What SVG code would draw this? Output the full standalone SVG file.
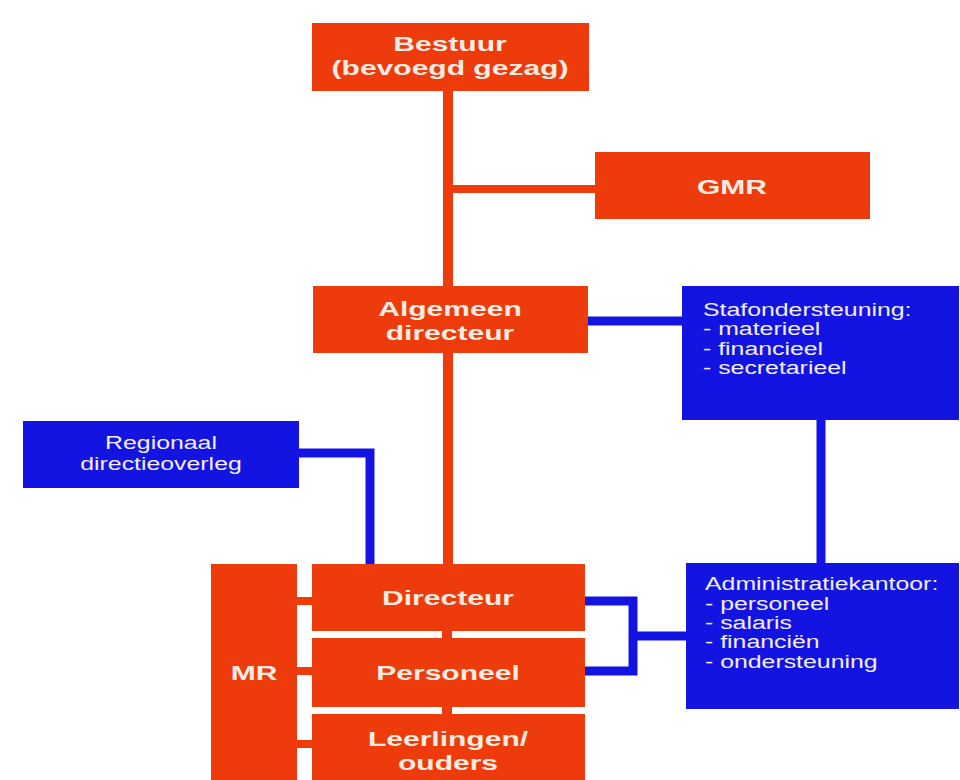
<svg xmlns="http://www.w3.org/2000/svg" width="960" height="780" viewBox="0 0 960 780">
<style>
.o{fill:#EE3B0B}
.b{fill:#1414E2}
.co{stroke:#EE3B0B;fill:none}
.cb{stroke:#1414E2;fill:none;stroke-width:9}
.tb{font-family:"Liberation Sans",Arial,sans-serif;font-weight:bold;font-size:21px;fill:#F8ECE2;text-anchor:middle}
.tr{font-family:"Liberation Sans",Arial,sans-serif;font-size:18px;fill:#F2EEF8}
</style>
<rect width="960" height="780" fill="#ffffff"/>
<g id="connectors">
<line class="co" x1="448" y1="90" x2="448" y2="565" stroke-width="10"/>
<line class="co" x1="447" y1="630" x2="447" y2="715" stroke-width="10"/>
<line class="co" x1="448" y1="189" x2="596" y2="189" stroke-width="8"/>
<line class="co" x1="296" y1="601" x2="313" y2="601" stroke-width="8"/>
<line class="co" x1="296" y1="671" x2="313" y2="671" stroke-width="8"/>
<line class="co" x1="296" y1="744" x2="313" y2="744" stroke-width="8"/>
<line class="cb" x1="587" y1="321" x2="683" y2="321"/>
<line class="cb" x1="821" y1="419" x2="821" y2="564"/>
<polyline class="cb" points="298,453 370,453 370,565"/>
<polyline class="cb" points="584,601 633,601 633,671 584,671"/>
<line class="cb" x1="633" y1="636" x2="687" y2="636"/>
</g>
<g id="bestuur">
<rect class="o" x="312" y="23" width="277" height="68"/>
<text class="tb" transform="translate(450,51) scale(1.43,1)">Bestuur</text>
<text class="tb" transform="translate(450,75) scale(1.43,1)">(bevoegd gezag)</text>
</g>
<g id="gmr">
<rect class="o" x="595" y="152" width="275" height="67"/>
<text class="tb" transform="translate(732,194) scale(1.43,1)">GMR</text>
</g>
<g id="algemeen">
<rect class="o" x="313" y="286" width="275" height="67"/>
<text class="tb" transform="translate(450,316) scale(1.43,1)">Algemeen</text>
<text class="tb" transform="translate(450,340) scale(1.43,1)">directeur</text>
</g>
<g id="staf">
<rect class="b" x="682" y="286" width="277" height="134"/>
<g transform="translate(703,0) scale(1.38,1)">
<text class="tr" x="0" y="316">Stafondersteuning:</text>
<text class="tr" x="0" y="335">- materieel</text>
<text class="tr" x="0" y="355">- financieel</text>
<text class="tr" x="0" y="374">- secretarieel</text>
</g>
</g>
<g id="regionaal">
<rect class="b" x="23" y="421" width="276" height="67"/>
<g transform="translate(161,0) scale(1.38,1)">
<text class="tr" x="0" y="449" text-anchor="middle">Regionaal</text>
<text class="tr" x="0" y="470" text-anchor="middle">directieoverleg</text>
</g>
</g>
<g id="mr">
<rect class="o" x="211" y="564" width="86" height="216"/>
<text class="tb" transform="translate(254,680) scale(1.43,1)">MR</text>
</g>
<g id="directeur">
<rect class="o" x="312" y="564" width="273" height="67"/>
<text class="tb" transform="translate(448,605) scale(1.43,1)">Directeur</text>
</g>
<g id="personeel">
<rect class="o" x="312" y="638" width="273" height="69"/>
<text class="tb" transform="translate(448,680) scale(1.43,1)">Personeel</text>
</g>
<g id="leerlingen">
<rect class="o" x="312" y="714" width="273" height="66"/>
<text class="tb" transform="translate(448,746) scale(1.43,1)">Leerlingen/</text>
<text class="tb" transform="translate(448,770) scale(1.43,1)">ouders</text>
</g>
<g id="admin">
<rect class="b" x="686" y="563" width="273" height="146"/>
<g transform="translate(705,0) scale(1.38,1)">
<text class="tr" x="0" y="590">Administratiekantoor:</text>
<text class="tr" x="0" y="610">- personeel</text>
<text class="tr" x="0" y="629">- salaris</text>
<text class="tr" x="0" y="648">- financiën</text>
<text class="tr" x="0" y="668">- ondersteuning</text>
</g>
</g>
</svg>
